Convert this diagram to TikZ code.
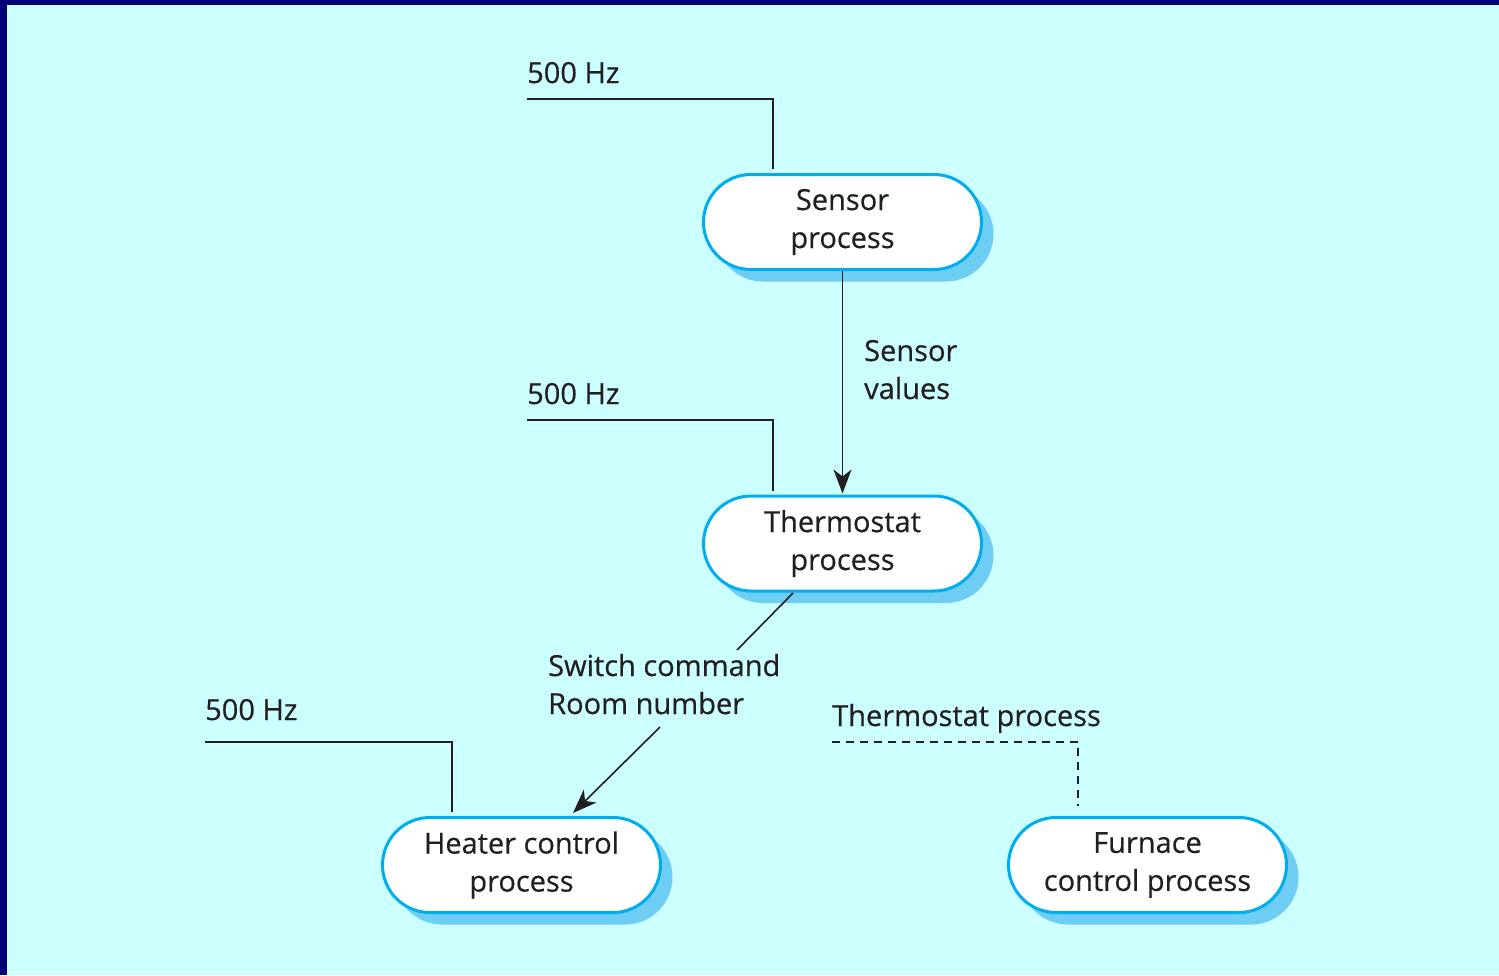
\documentclass[tikz,border=0pt]{standalone}
\usepackage{fontspec}
\setmainfont{Open Sans}
\newfontface\inkfont{Open Sans}[FakeBold=0.5]
\usetikzlibrary{shapes.misc,arrows.meta,shadows}
\definecolor{bgcyan}{HTML}{CCFFFF}
\definecolor{frame}{HTML}{000077}
\definecolor{procedge}{HTML}{00AEEF}
\definecolor{procshade}{HTML}{6DCDF3}
\definecolor{ink}{HTML}{231F20}
\tikzset{
  proc/.style={rounded rectangle, draw=procedge, line width=3pt, fill=white,
    minimum width=278pt, minimum height=95pt, align=center, inner sep=0pt,
    font=\inkfont\fontsize{29}{38}\selectfont, text=ink,
    drop shadow={shadow xshift=12pt, shadow yshift=-12pt, fill=procshade, opacity=1}},
  lbl/.style={anchor=base west, inner sep=0pt, font=\inkfont\fontsize{29}{38}\selectfont, text=ink, align=left},
  wire/.style={draw=ink, line width=1.6pt},
  flow/.style={wire, -{Stealth[length=24pt,width=18pt,inset=7pt]}}
}
\begin{document}
\begin{tikzpicture}[x=1pt,y=-1pt]
\useasboundingbox (0,0) rectangle (1499,975);
\fill[frame] (0,0) rectangle (1499,975);
\fill[bgcyan] (7,5) rectangle (1499,975);

% processes
\node[proc] (sensor) at (842.5,222) {Sensor\\process};
\node[proc] (thermo) at (842.5,543.5) {Thermostat\\process};
\node[proc] (heater) at (521.5,865) {Heater control\\process};
\node[proc] (furnace) at (1147.5,865) {Furnace\\control process};

% clock labels and their ticks
\node[lbl] (hz1) at (527,83) {500 Hz};
\node[lbl] (hz2) at (527,404) {500 Hz};
\node[lbl] (hz3) at (205,720) {500 Hz};
\node[lbl] (tp) at (832,726) {Thermostat process};
\coordinate (c1) at (527,99);
\coordinate (c2) at (527,420);
\coordinate (c3) at (205,742);
\coordinate (c4) at (832,742);
\coordinate (e4) at (1078,806);
\draw[wire] (c1) -| ([xshift=-69.5pt,yshift=4pt]sensor.north);
\draw[wire] (c2) -| ([xshift=-69.5pt,yshift=4pt]thermo.north);
\draw[wire] (c3) -| ([xshift=-69.5pt,yshift=4pt]heater.north);
\draw[wire, dash pattern=on 8pt off 6pt] (c4) -| (e4);

% data flows
\draw[flow] (sensor.south) -- ([yshift=1pt]thermo.north);
\node[lbl] (sv) at (864,399) {Sensor\\values};
\node[lbl] (sw) at (548,714) {Switch command\\Room number};
\coordinate (d1) at (793,593);
\coordinate (d2) at (737,650);
\coordinate (d3) at (660,727);
\coordinate (d4) at (573,813);
\draw[wire] (d1) -- (d2);
\draw[flow] (d3) -- (d4);
\end{tikzpicture}
\end{document}
